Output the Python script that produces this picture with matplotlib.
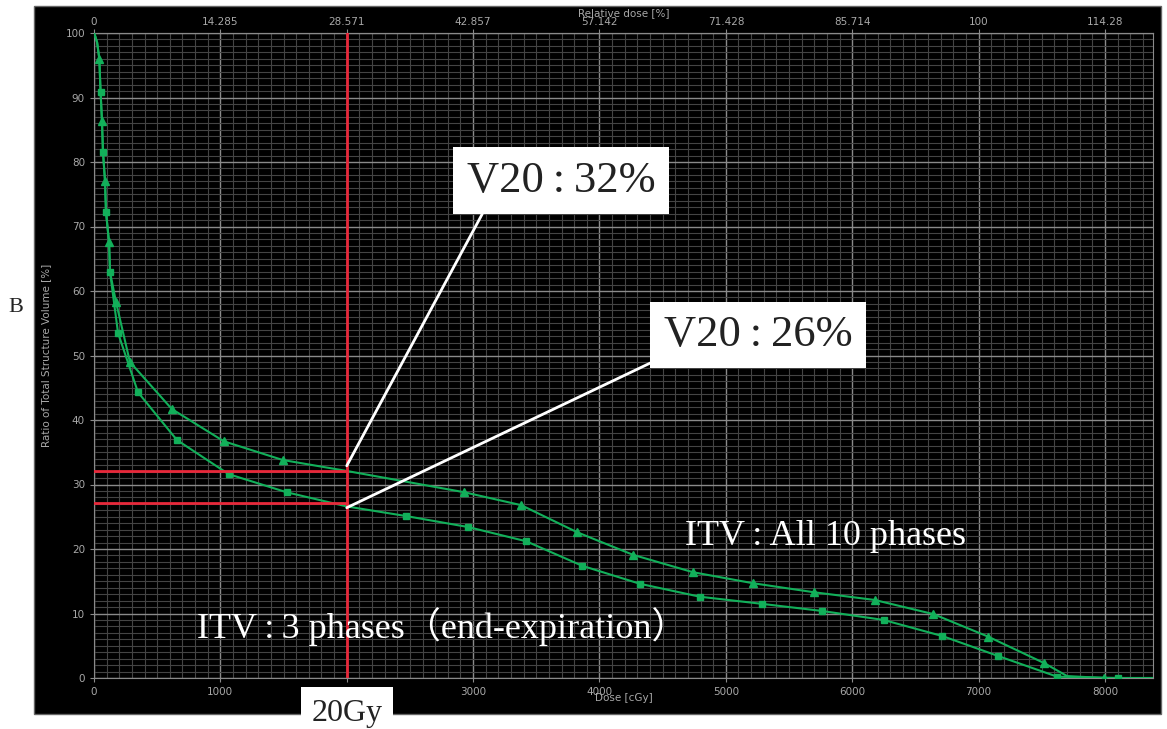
import matplotlib
matplotlib.use("Agg")
import matplotlib.pyplot as plt
from matplotlib.patches import Rectangle
from matplotlib.ticker import MultipleLocator

# dose-volume histogram, dose in cGy, volume in %
# both curves share the steep low-dose part
dose_all10 = [0, 10, 25, 42, 52, 63, 71, 87, 95, 119, 127, 174, 284, 616,
              1027, 1493, 2000, 2930, 3380, 3823, 4265, 4740, 5213, 5695,
              6177, 6643, 7077, 7520, 7700, 7994, 8380]
vol_all10 = [100, 99.5, 98.5, 96.0, 90.9, 86.4, 81.6, 77.1, 72.2, 67.6, 62.9,
             58.3, 49.0, 41.7, 36.7, 33.8, 32.1, 28.8, 26.8, 22.6, 19.1, 16.4,
             14.7, 13.3, 12.1, 9.9, 6.4, 2.3, 0.3, 0.0, 0.0]
tri_marks = [3, 5, 7, 9, 11, 12, 13, 14, 15, 17, 18, 19, 20, 21, 22, 23, 24,
             25, 26, 27, 29]

dose_3ph = [0, 10, 25, 42, 52, 63, 71, 87, 95, 119, 127, 190, 348, 656, 1066,
            1524, 2000, 2472, 2962, 3420, 3863, 4321, 4795, 5284, 5758, 6248,
            6714, 7156, 7622, 8104, 8380]
vol_3ph = [100, 99.5, 98.5, 96.0, 90.9, 86.4, 81.6, 77.1, 72.2, 67.6, 62.9,
           53.5, 44.3, 36.9, 31.6, 28.8, 26.6, 25.1, 23.4, 21.2, 17.4, 14.6,
           12.6, 11.5, 10.4, 9.0, 6.5, 3.4, 0.2, 0.0, 0.0]
sq_marks = [4, 6, 8, 10, 11, 12, 13, 14, 15, 17, 18, 19, 20, 21, 22, 23, 24,
            25, 26, 27, 28, 29]

v20_dose = 2000
v20_lines = [32.1, 27.1]
v20_labels = ["V20\u2009:\u200932%", "V20\u2009:\u200926%"]
rel_labels = ["0", "14.285", "28.571", "42.857", "57.142", "71.428",
              "85.714", "100", "114.28"]

serif = ["Liberation Serif", "Noto Sans CJK JP"]
green = "#12b05a"
grey = "#a8a8a8"

fig = plt.figure(figsize=(11.67, 7.29), dpi=100)
W, H = 1167, 729

# black screen panel behind the plot
fig.patches.append(Rectangle((34 / W, 1 - 714 / H), (1161 - 34) / W, (714 - 6) / H,
                             transform=fig.transFigure, facecolor="black",
                             edgecolor="#666666", lw=1, zorder=-5))

ax = fig.add_axes([94 / W, 1 - 678 / H, (1153 - 94) / W, (678 - 33) / H])
ax.set_zorder(1)
ax.set_facecolor("black")
ax.set_xlim(0, 8380)
ax.set_ylim(0, 100)

ax.xaxis.set_major_locator(MultipleLocator(1000))
ax.xaxis.set_minor_locator(MultipleLocator(100))
ax.yaxis.set_major_locator(MultipleLocator(10))
ax.yaxis.set_minor_locator(MultipleLocator(1))
ax.grid(which="major", color="#8a8a8a", lw=1.0)
ax.grid(which="minor", color="#444444", lw=0.8)
ax.set_axisbelow(True)
for s in ax.spines.values():
    s.set_color("#8a8a8a")
ax.tick_params(which="both", colors="#8a8a8a", labelcolor=grey, labelsize=7.5,
               length=3)
ax.tick_params(which="minor", length=0)
ax.set_xlabel("Dose [cGy]", color=grey, fontsize=7.5, labelpad=-3)
ax.set_ylabel("Ratio of Total Structure Volume [%]", color=grey, fontsize=7.5,
              labelpad=10)

top = ax.secondary_xaxis("top")
top.set_xticks(range(0, 9000, 1000), rel_labels)
top.tick_params(colors="#8a8a8a", labelcolor=grey, labelsize=7.5, length=3, pad=1)
top.spines["top"].set_color("#8a8a8a")
top.set_xlabel("Relative dose [%]", color=grey, fontsize=7.5, labelpad=1)

# two DVH curves
ax.plot(dose_all10, vol_all10, color=green, lw=1.5, marker="^", ms=5.5,
        markevery=tri_marks, zorder=3)
ax.plot(dose_3ph, vol_3ph, color=green, lw=1.5, marker="s", ms=4,
        markevery=sq_marks, zorder=3)

# V20 guide lines
ax.axvline(v20_dose, color="#e8283a", lw=2, zorder=4)
for v in v20_lines:
    ax.plot([0, v20_dose], [v, v], color="#e8283a", lw=2, zorder=4)

box = dict(boxstyle="square,pad=0.3", facecolor="white", edgecolor="none")
ax.annotate(v20_labels[0], xy=(v20_dose, 32.9), xytext=(3696, 77.1),
            fontsize=32, family=serif, color="#222222", ha="center", va="center",
            bbox=box, zorder=6,
            arrowprops=dict(arrowstyle="-", color="white", lw=2,
                            relpos=(0.12, 0), shrinkA=0, shrinkB=0))
ax.annotate(v20_labels[1], xy=(v20_dose, 26.4), xytext=(5254, 53.2),
            fontsize=32, family=serif, color="#222222", ha="center", va="center",
            bbox=box, zorder=6,
            arrowprops=dict(arrowstyle="-", color="white", lw=2,
                            relpos=(0.02, 0), shrinkA=0, shrinkB=0))

ax.text(4675, 21.9, "ITV\u2009:\u2009All 10 phases", fontsize=26, family=serif,
        color="white", ha="left", va="center", zorder=6)
ax.text(816, 7.9, "ITV\u2009:\u20093 phases（end-expiration）", fontsize=26,
        family=serif, color="white", ha="left", va="center", zorder=6)

# 20Gy tag under the dose axis
fig.patches.append(Rectangle((301 / W, 0), (393 - 301) / W, (729 - 687) / H,
                             transform=fig.transFigure, facecolor="white",
                             edgecolor="none", zorder=5))
fig.text(347 / W, 1 - 713 / H, "20Gy", fontsize=23, family=serif,
         color="#222222", ha="center", va="center", zorder=6)

fig.text(16 / W, 1 - 307 / H, "B", fontsize=16, family=serif,
         color="#222222", ha="center", va="center")

fig.savefig("out.png", dpi=100)
